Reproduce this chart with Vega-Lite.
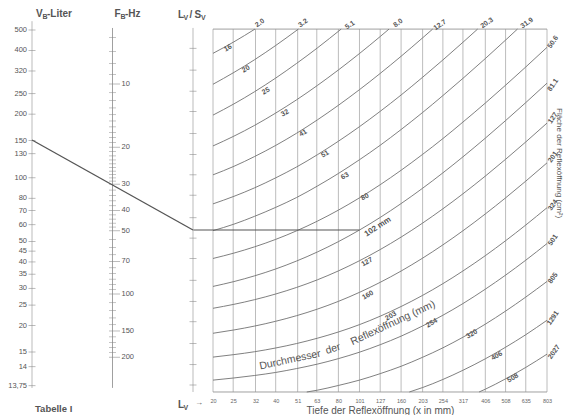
{
"$schema": "https://vega.github.io/schema/vega-lite/v6.json",
"width": 564, "height": 415, "autosize": {"type": "none"}, "padding": 0,
"background": "white",
"config": {"view": {"stroke": null}, "text": {"font": "Liberation Sans", "color": "#555"}, "axis": {"labelFont": "Liberation Sans", "titleFont": "Liberation Sans"}},
"resolve": {"scale": {"x": "independent", "y": "independent"}, "axis": {"x": "independent", "y": "independent"}},
"layer": [
{"data": {"values": [{"x":20},{"x":25},{"x":32},{"x":40},{"x":51},{"x":63},{"x":80},{"x":101},{"x":127},{"x":160},{"x":203},{"x":254},{"x":317},{"x":406},{"x":508},{"x":635},{"x":803}]},
 "mark": {"type": "rule", "color": "#ababab", "strokeWidth": 0.8},
 "encoding": {"x": {"field": "x", "type": "quantitative", "scale": {"type":"log","domain":[20,803],"range":[213,547],"nice":false},
   "axis": {"orient":"bottom","offset":-23,"values":[20,25,32,40,51,63,80,101,127,160,203,254,317,406,508,635,803],"format":"d","labelFontSize":5.5,"labelColor":"#666","ticks":false,"domain":false,"grid":false,"labelPadding":6,"labelOverlap":false,"labelFlush":false,"labelBound":false,"title":"Tiefe der Reflexöffnung (x in mm)","titleFontSize":10,"titleColor":"#555","titleFontWeight":"normal","titlePadding":2}},
  "y": {"datum": 3.705, "type": "quantitative", "scale": {"type":"log","domain":[4,160],"range":[385,48.3],"nice":false}, "axis": null},
  "y2": {"datum": 197.5}}},
{"data": {"values": [{"y":3.705},{"y":197.5}]},
 "mark": {"type": "rule", "color": "#959595", "strokeWidth": 0.9},
 "encoding": {"x": {"datum": 20, "type": "quantitative", "scale": {"type":"log","domain":[20,803],"range":[213,547],"nice":false}, "axis": null},
  "x2": {"datum": 803},
  "y": {"field": "y", "type": "quantitative", "scale": {"type":"log","domain":[4,160],"range":[385,48.3],"nice":false}, "axis": null}}},
{"data": {"values": [
 {"d":"16","x":20,"y":151.4},{"d":"16","x":25.2,"y":171.7},{"d":"16","x":31.8,"y":197.5},
 {"d":"20","x":20,"y":107.9},{"d":"20","x":25.2,"y":122.8},{"d":"20","x":31.7,"y":141.3},{"d":"20","x":40,"y":165.0},{"d":"20","x":51.4,"y":197.5},
 {"d":"25","x":20,"y":76.96},{"d":"25","x":25.2,"y":87.0},{"d":"25","x":31.7,"y":99.5},{"d":"25","x":40,"y":115.5},{"d":"25","x":50.4,"y":135.6},{"d":"25","x":63.5,"y":160.8},{"d":"25","x":82.5,"y":197.5},
 {"d":"32","x":20,"y":54.9},{"d":"32","x":25.2,"y":61.1},{"d":"32","x":31.7,"y":68.8},{"d":"32","x":40,"y":78.7},{"d":"32","x":50.4,"y":91.0},{"d":"32","x":63.5,"y":106.6},{"d":"32","x":80,"y":126.2},{"d":"32","x":101,"y":151.1},{"d":"32","x":127,"y":182.0},{"d":"32","x":140,"y":197.5},
 {"d":"41","x":20,"y":40.0},{"d":"41","x":25.2,"y":43.9},{"d":"41","x":31.7,"y":48.9},{"d":"41","x":40,"y":55.2},{"d":"41","x":50.4,"y":63.1},{"d":"41","x":63.5,"y":73.1},{"d":"41","x":80,"y":85.7},{"d":"41","x":101,"y":101.7},{"d":"41","x":127,"y":121.5},{"d":"41","x":160,"y":146.6},{"d":"41","x":203,"y":179.4},{"d":"41","x":226.8,"y":197.5},
 {"d":"51","x":20,"y":29.1},{"d":"51","x":25.2,"y":31.6},{"d":"51","x":31.7,"y":34.7},{"d":"51","x":40,"y":38.7},{"d":"51","x":50.4,"y":43.6},{"d":"51","x":63.5,"y":49.9},{"d":"51","x":80,"y":57.8},{"d":"51","x":101,"y":67.8},{"d":"51","x":127,"y":80.2},{"d":"51","x":160,"y":95.9},{"d":"51","x":203,"y":116.5},{"d":"51","x":254,"y":140.8},{"d":"51","x":317,"y":170.9},{"d":"51","x":372.8,"y":197.5},
 {"d":"63","x":20,"y":21.7},{"d":"63","x":25.2,"y":23.3},{"d":"63","x":31.7,"y":25.4},{"d":"63","x":40,"y":28.0},{"d":"63","x":50.4,"y":31.2},{"d":"63","x":63.5,"y":35.4},{"d":"63","x":80,"y":40.6},{"d":"63","x":101,"y":47.2},{"d":"63","x":127,"y":55.3},{"d":"63","x":160,"y":65.7},{"d":"63","x":203,"y":79.2},{"d":"63","x":254,"y":95.3},{"d":"63","x":317,"y":115.1},{"d":"63","x":406,"y":143.0},{"d":"63","x":508,"y":175.1},{"d":"63","x":579.2,"y":197.5},
 {"d":"80","x":20,"y":16.0},{"d":"80","x":25.2,"y":16.97},{"d":"80","x":31.7,"y":18.18},{"d":"80","x":40,"y":19.72},{"d":"80","x":50.4,"y":21.66},{"d":"80","x":63.5,"y":24.1},{"d":"80","x":80,"y":27.17},{"d":"80","x":101,"y":31.08},{"d":"80","x":127,"y":35.9},{"d":"80","x":160,"y":42.05},{"d":"80","x":203,"y":50.06},{"d":"80","x":254,"y":59.5},{"d":"80","x":317,"y":71.3},{"d":"80","x":406,"y":87.8},{"d":"80","x":508,"y":106.8},{"d":"80","x":635,"y":130.4},{"d":"80","x":803,"y":161.7},
 {"d":"102","x":20,"y":11.78},{"d":"102","x":25.2,"y":12.42},{"d":"102","x":31.7,"y":13.23},{"d":"102","x":40,"y":14.26},{"d":"102","x":50.4,"y":15.56},{"d":"102","x":63.5,"y":17.19},{"d":"102","x":80,"y":19.24},{"d":"102","x":101,"y":21.85},{"d":"102","x":127,"y":25.08},{"d":"102","x":160,"y":29.19},{"d":"102","x":203,"y":34.54},{"d":"102","x":254,"y":40.88},{"d":"102","x":317,"y":48.71},{"d":"102","x":406,"y":59.78},{"d":"102","x":508,"y":72.47},{"d":"102","x":635,"y":88.26},{"d":"102","x":803,"y":109.2},
 {"d":"127","x":20,"y":9.27},{"d":"127","x":25.2,"y":9.68},{"d":"127","x":31.7,"y":10.19},{"d":"127","x":40,"y":10.84},{"d":"127","x":50.4,"y":11.65},{"d":"127","x":63.5,"y":12.67},{"d":"127","x":80,"y":13.96},{"d":"127","x":101,"y":15.61},{"d":"127","x":127,"y":17.64},{"d":"127","x":160,"y":20.22},{"d":"127","x":203,"y":23.58},{"d":"127","x":254,"y":27.57},{"d":"127","x":317,"y":32.49},{"d":"127","x":406,"y":39.45},{"d":"127","x":508,"y":47.43},{"d":"127","x":635,"y":57.36},{"d":"127","x":803,"y":70.5},
 {"d":"160","x":20,"y":7.05},{"d":"160","x":25.2,"y":7.31},{"d":"160","x":31.7,"y":7.63},{"d":"160","x":40,"y":8.04},{"d":"160","x":50.4,"y":8.55},{"d":"160","x":63.5,"y":9.19},{"d":"160","x":80,"y":10.0},{"d":"160","x":101,"y":11.04},{"d":"160","x":127,"y":12.32},{"d":"160","x":160,"y":13.94},{"d":"160","x":203,"y":16.06},{"d":"160","x":254,"y":18.57},{"d":"160","x":317,"y":21.67},{"d":"160","x":406,"y":26.06},{"d":"160","x":508,"y":31.08},{"d":"160","x":635,"y":37.33},{"d":"160","x":803,"y":45.6},
 {"d":"203","x":20,"y":5.43},{"d":"203","x":25.2,"y":5.58},{"d":"203","x":31.7,"y":5.76},{"d":"203","x":40,"y":6.0},{"d":"203","x":50.4,"y":6.3},{"d":"203","x":63.5,"y":6.68},{"d":"203","x":80,"y":7.15},{"d":"203","x":101,"y":7.75},{"d":"203","x":127,"y":8.5},{"d":"203","x":160,"y":9.45},{"d":"203","x":203,"y":10.68},{"d":"203","x":254,"y":12.14},{"d":"203","x":317,"y":13.95},{"d":"203","x":406,"y":16.5},{"d":"203","x":508,"y":19.43},{"d":"203","x":635,"y":23.08},{"d":"203","x":803,"y":27.9},
 {"d":"254","x":20,"y":4.22},{"d":"254","x":25.2,"y":4.32},{"d":"254","x":31.7,"y":4.44},{"d":"254","x":40,"y":4.59},{"d":"254","x":50.4,"y":4.79},{"d":"254","x":63.5,"y":5.03},{"d":"254","x":80,"y":5.34},{"d":"254","x":101,"y":5.73},{"d":"254","x":127,"y":6.22},{"d":"254","x":160,"y":6.83},{"d":"254","x":203,"y":7.64},{"d":"254","x":254,"y":8.59},{"d":"254","x":317,"y":9.76},{"d":"254","x":406,"y":11.43},{"d":"254","x":508,"y":13.33},{"d":"254","x":635,"y":15.7},{"d":"254","x":803,"y":18.84},
 {"d":"320","x":56.4,"y":3.705},{"d":"320","x":63.5,"y":3.78},{"d":"320","x":80,"y":3.98},{"d":"320","x":101,"y":4.22},{"d":"320","x":127,"y":4.53},{"d":"320","x":160,"y":4.91},{"d":"320","x":203,"y":5.42},{"d":"320","x":254,"y":6.01},{"d":"320","x":317,"y":6.75},{"d":"320","x":406,"y":7.79},{"d":"320","x":508,"y":8.99},{"d":"320","x":635,"y":10.48},{"d":"320","x":803,"y":12.44},
 {"d":"406","x":175.3,"y":3.705},{"d":"406","x":203,"y":3.89},{"d":"406","x":254,"y":4.25},{"d":"406","x":317,"y":4.70},{"d":"406","x":406,"y":5.33},{"d":"406","x":508,"y":6.05},{"d":"406","x":635,"y":6.94},{"d":"406","x":803,"y":8.13},
 {"d":"508","x":379,"y":3.705},{"d":"508","x":406,"y":3.82},{"d":"508","x":508,"y":4.28},{"d":"508","x":635,"y":4.85},{"d":"508","x":803,"y":5.61}
 ]},
 "mark": {"type": "line", "color": "#727272", "strokeWidth": 0.9, "interpolate": "monotone"},
 "encoding": {"x": {"field": "x", "type": "quantitative", "scale": {"type":"log","domain":[20,803],"range":[213,547],"nice":false}, "axis": null},
  "y": {"field": "y", "type": "quantitative", "scale": {"type":"log","domain":[4,160],"range":[385,48.3],"nice":false}, "axis": null},
  "detail": {"field": "d", "type": "nominal"}}},
{"data": {"values": [{"x0":16.05,"x1":101,"y":21.85}]},
 "mark": {"type": "rule", "color": "#555", "strokeWidth": 1.2},
 "encoding": {"x": {"field": "x0", "type": "quantitative", "scale": {"type":"log","domain":[20,803],"range":[213,547],"nice":false}, "axis": null},
  "x2": {"field": "x1"},
  "y": {"field": "y", "type": "quantitative", "scale": {"type":"log","domain":[4,160],"range":[385,48.3],"nice":false}, "axis": null}}},
{"data": {"values": [
 {"x":23.6,"y":160.4,"t":"16"},{"x":28.8,"y":127.5,"t":"20"},{"x":35.9,"y":100.2,"t":"25"},{"x":44.3,"y":78.7,"t":"32"},{"x":54.1,"y":63.2,"t":"41"},{"x":69.0,"y":50.2,"t":"51"},{"x":86.0,"y":39.5,"t":"63"},{"x":107.3,"y":31.4,"t":"80"},{"x":109.7,"y":15.4,"t":"127"},{"x":110.9,"y":10.7,"t":"160"},{"x":143,"y":8.52,"t":"203"},{"x":225,"y":7.89,"t":"254"},{"x":350,"y":6.99,"t":"320"},{"x":461,"y":5.5,"t":"406"},{"x":551,"y":4.32,"t":"508"}]},
 "mark": {"type": "text", "angle": -30, "fontSize": 7, "fontWeight": "bold", "color": "#555", "align": "center", "baseline": "middle"},
 "encoding": {"x": {"field": "x", "type": "quantitative", "scale": {"type":"log","domain":[20,803],"range":[213,547],"nice":false}, "axis": null},
  "y": {"field": "y", "type": "quantitative", "scale": {"type":"log","domain":[4,160],"range":[385,48.3],"nice":false}, "axis": null},
  "text": {"field": "t"}}},
{"data": {"values": [{"x":123.9,"y":22.6,"t":"102 mm"}]},
 "mark": {"type": "text", "angle": -33, "fontSize": 8, "fontWeight": "bold", "color": "#555", "align": "center", "baseline": "middle"},
 "encoding": {"x": {"field": "x", "type": "quantitative", "scale": {"type":"log","domain":[20,803],"range":[213,547],"nice":false}, "axis": null},
  "y": {"field": "y", "type": "quantitative", "scale": {"type":"log","domain":[4,160],"range":[385,48.3],"nice":false}, "axis": null},
  "text": {"field": "t"}}},
{"data": {"values": [
 {"x":33.6,"y":211,"t":"2.0"},{"x":54.1,"y":211,"t":"3.2"},{"x":90.9,"y":206.4,"t":"5.1"},{"x":154.7,"y":211,"t":"8.0"},{"x":246,"y":206.4,"t":"12.7"},{"x":413,"y":211,"t":"20.3"},{"x":643,"y":211,"t":"31.9"}]},
 "mark": {"type": "text", "angle": -35, "fontSize": 7, "fontWeight": "bold", "color": "#555", "align": "center", "baseline": "middle"},
 "encoding": {"x": {"field": "x", "type": "quantitative", "scale": {"type":"log","domain":[20,803],"range":[213,547],"nice":false}, "axis": null},
  "y": {"field": "y", "type": "quantitative", "scale": {"type":"log","domain":[4,160],"range":[385,48.3],"nice":false}, "axis": null},
  "text": {"field": "t"}}},
{"data": {"values": [
 {"x":857.8,"y":171.3,"t":"50.6"},{"x":857.8,"y":107.0,"t":"81.1"},{"x":857.8,"y":74.5,"t":"127"},{"x":857.8,"y":48.6,"t":"201"},{"x":857.8,"y":28.7,"t":"324"},{"x":857.8,"y":19.6,"t":"501"},{"x":857.8,"y":12.9,"t":"805"},{"x":857.8,"y":8.33,"t":"1291"},{"x":868,"y":5.74,"t":"2027"}]},
 "mark": {"type": "text", "angle": -55, "fontSize": 7, "fontWeight": "bold", "color": "#555", "align": "center", "baseline": "middle"},
 "encoding": {"x": {"field": "x", "type": "quantitative", "scale": {"type":"log","domain":[20,803],"range":[213,547],"nice":false}, "axis": null},
  "y": {"field": "y", "type": "quantitative", "scale": {"type":"log","domain":[4,160],"range":[385,48.3],"nice":false}, "axis": null},
  "text": {"field": "t"}}},
{"data": {"values": [{"x":46.9,"y":5.26,"t":"Durchmesser"}]},
 "mark": {"type": "text", "angle": -12, "fontSize": 10.5, "color": "#555", "align": "center", "baseline": "middle"},
 "encoding": {"x": {"field": "x", "type": "quantitative", "scale": {"type":"log","domain":[20,803],"range":[213,547],"nice":false}, "axis": null},
  "y": {"field": "y", "type": "quantitative", "scale": {"type":"log","domain":[4,160],"range":[385,48.3],"nice":false}, "axis": null},
  "text": {"field": "t"}}},
{"data": {"values": [{"x":75.4,"y":5.94,"t":"der"}]},
 "mark": {"type": "text", "angle": -17, "fontSize": 10.5, "color": "#555", "align": "center", "baseline": "middle"},
 "encoding": {"x": {"field": "x", "type": "quantitative", "scale": {"type":"log","domain":[20,803],"range":[213,547],"nice":false}, "axis": null},
  "y": {"field": "y", "type": "quantitative", "scale": {"type":"log","domain":[4,160],"range":[385,48.3],"nice":false}, "axis": null},
  "text": {"field": "t"}}},
{"data": {"values": [{"x":146.3,"y":7.89,"t":"Reflexöffnung (mm)"}]},
 "mark": {"type": "text", "angle": -25, "fontSize": 10.5, "color": "#555", "align": "center", "baseline": "middle"},
 "encoding": {"x": {"field": "x", "type": "quantitative", "scale": {"type":"log","domain":[20,803],"range":[213,547],"nice":false}, "axis": null},
  "y": {"field": "y", "type": "quantitative", "scale": {"type":"log","domain":[4,160],"range":[385,48.3],"nice":false}, "axis": null},
  "text": {"field": "t"}}},
{"data": {"values": [{"x":920,"y":45.5,"t":"Fläche der Reflexöffnung (cm²)"}]},
 "mark": {"type": "text", "angle": 90, "fontSize": 8, "color": "#555", "align": "center", "baseline": "middle"},
 "encoding": {"x": {"field": "x", "type": "quantitative", "scale": {"type":"log","domain":[20,803],"range":[213,547],"nice":false}, "axis": null},
  "y": {"field": "y", "type": "quantitative", "scale": {"type":"log","domain":[4,160],"range":[385,48.3],"nice":false}, "axis": null},
  "text": {"field": "t"}}},

{"data": {"values": [{"axis":"VB"}]},
 "mark": {"type": "rule", "color": "#aaa", "strokeWidth": 0.8},
 "encoding": {"x": {"field": "axis", "type": "nominal", "scale": {"type":"point","domain":["VB","FB","LV"],"range":[32,193],"padding":0}, "axis": null},
  "y": {"datum": 13.7, "type": "quantitative", "scale": {"type":"log","domain":[13.7,13.75,14,15,500,550],"range":[388,385.7,366.7,352,30,21.2],"nice":false}, "axis": null},
  "y2": {"datum": 550}}},
{"data": {"values": [
 {"axis":"VB","v":500,"t":"500"},{"axis":"VB","v":400,"t":"400"},{"axis":"VB","v":320,"t":"320"},{"axis":"VB","v":250,"t":"250"},{"axis":"VB","v":200,"t":"200"},{"axis":"VB","v":150,"t":"150"},{"axis":"VB","v":130,"t":"130"},{"axis":"VB","v":100,"t":"100"},{"axis":"VB","v":80,"t":"80"},{"axis":"VB","v":70,"t":"70"},{"axis":"VB","v":60,"t":"60"},{"axis":"VB","v":50,"t":"50"},{"axis":"VB","v":45,"t":"45"},{"axis":"VB","v":40,"t":"40"},{"axis":"VB","v":35,"t":"35"},{"axis":"VB","v":30,"t":"30"},{"axis":"VB","v":25,"t":"25"},{"axis":"VB","v":20,"t":"20"},{"axis":"VB","v":15,"t":"15"},{"axis":"VB","v":14,"t":"14"},{"axis":"VB","v":13.75,"t":"13,75"}]},
 "layer": [
  {"mark": {"type": "tick", "size": 7, "thickness": 0.8, "color": "#888"}},
  {"mark": {"type": "text", "align": "right", "baseline": "middle", "dx": -5, "fontSize": 7.5, "color": "#555"}, "encoding": {"text": {"field": "t"}}}
 ],
 "encoding": {"x": {"field": "axis", "type": "nominal", "scale": {"type":"point","domain":["VB","FB","LV"],"range":[32,193],"padding":0}, "axis": null},
  "y": {"field": "v", "type": "quantitative", "scale": {"type":"log","domain":[13.7,13.75,14,15,500,550],"range":[388,385.7,366.7,352,30,21.2],"nice":false}, "axis": null}}},
{"data": {"values": [{"axis":"VB"}]},
 "layer": [
  {"mark": {"type": "text", "align": "left", "baseline": "middle", "dx": 4, "dy": -7, "fontSize": 10, "fontWeight": "bold", "color": "#555"}, "encoding": {"text": {"value": "V"}}},
  {"mark": {"type": "text", "align": "left", "baseline": "middle", "dx": 10.5, "dy": -4, "fontSize": 7, "fontWeight": "bold", "color": "#555"}, "encoding": {"text": {"value": "B"}}},
  {"mark": {"type": "text", "align": "left", "baseline": "middle", "dx": 15, "dy": -7, "fontSize": 10, "fontWeight": "bold", "color": "#555"}, "encoding": {"text": {"value": "-Liter"}}},
  {"mark": {"type": "text", "align": "left", "baseline": "middle", "dx": 3, "dy": 21, "fontSize": 9.5, "fontWeight": "bold", "color": "#555"}, "encoding": {"text": {"value": "Tabelle I"}, "y": {"datum": 13.7, "type": "quantitative", "scale": {"type":"log","domain":[13.7,13.75,14,15,500,550],"range":[388,385.7,366.7,352,30,21.2],"nice":false}, "axis": null}}}
 ],
 "encoding": {"x": {"field": "axis", "type": "nominal", "scale": {"type":"point","domain":["VB","FB","LV"],"range":[32,193],"padding":0}, "axis": null},
  "y": {"datum": 550, "type": "quantitative", "scale": {"type":"log","domain":[13.7,13.75,14,15,500,550],"range":[388,385.7,366.7,352,30,21.2],"nice":false}, "axis": null}}},

{"data": {"values": [{"axis":"FB"}]},
 "mark": {"type": "rule", "color": "#888", "strokeWidth": 0.8},
 "encoding": {"x": {"field": "axis", "type": "nominal", "scale": {"type":"point","domain":["VB","FB","LV"],"range":[32,193],"padding":0}, "axis": null},
  "y": {"datum": 5.41, "type": "quantitative", "scale": {"type":"log","domain":[10,100],"range":[84,294],"nice":false}, "axis": null},
  "y2": {"datum": 280}}},
{"data": {"values": [
 {"axis":"FB","f":6},{"axis":"FB","f":7},{"axis":"FB","f":8},{"axis":"FB","f":9},{"axis":"FB","f":11},{"axis":"FB","f":12},{"axis":"FB","f":13},{"axis":"FB","f":14},{"axis":"FB","f":15},{"axis":"FB","f":16},{"axis":"FB","f":17},{"axis":"FB","f":18},{"axis":"FB","f":19},{"axis":"FB","f":21},{"axis":"FB","f":22},{"axis":"FB","f":23},{"axis":"FB","f":24},{"axis":"FB","f":25},{"axis":"FB","f":26},{"axis":"FB","f":27},{"axis":"FB","f":28},{"axis":"FB","f":29},{"axis":"FB","f":32},{"axis":"FB","f":34},{"axis":"FB","f":36},{"axis":"FB","f":38},{"axis":"FB","f":42},{"axis":"FB","f":44},{"axis":"FB","f":46},{"axis":"FB","f":48},{"axis":"FB","f":55},{"axis":"FB","f":60},{"axis":"FB","f":65},{"axis":"FB","f":75},{"axis":"FB","f":80},{"axis":"FB","f":85},{"axis":"FB","f":90},{"axis":"FB","f":95},{"axis":"FB","f":110},{"axis":"FB","f":120},{"axis":"FB","f":130},{"axis":"FB","f":140},{"axis":"FB","f":160},{"axis":"FB","f":170},{"axis":"FB","f":180},{"axis":"FB","f":190}]},
 "mark": {"type": "tick", "size": 7, "thickness": 0.7, "color": "#888"},
 "encoding": {"x": {"field": "axis", "type": "nominal", "scale": {"type":"point","domain":["VB","FB","LV"],"range":[32,193],"padding":0}, "axis": null},
  "y": {"field": "f", "type": "quantitative", "scale": {"type":"log","domain":[10,100],"range":[84,294],"nice":false}, "axis": null}}},
{"data": {"values": [
 {"axis":"FB","f":10,"t":"10"},{"axis":"FB","f":20,"t":"20"},{"axis":"FB","f":30,"t":"30"},{"axis":"FB","f":40,"t":"40"},{"axis":"FB","f":50,"t":"50"},{"axis":"FB","f":70,"t":"70"},{"axis":"FB","f":100,"t":"100"},{"axis":"FB","f":150,"t":"150"},{"axis":"FB","f":200,"t":"200"}]},
 "layer": [
  {"mark": {"type": "tick", "size": 11, "thickness": 0.8, "color": "#888", "xOffset": 2}},
  {"mark": {"type": "text", "align": "left", "baseline": "middle", "dx": 9, "fontSize": 7.5, "color": "#555"}, "encoding": {"text": {"field": "t"}}}
 ],
 "encoding": {"x": {"field": "axis", "type": "nominal", "scale": {"type":"point","domain":["VB","FB","LV"],"range":[32,193],"padding":0}, "axis": null},
  "y": {"field": "f", "type": "quantitative", "scale": {"type":"log","domain":[10,100],"range":[84,294],"nice":false}, "axis": null}}},
{"data": {"values": [{"axis":"FB"}]},
 "layer": [
  {"mark": {"type": "text", "align": "left", "baseline": "middle", "dx": 2, "dy": -14, "fontSize": 10, "fontWeight": "bold", "color": "#555"}, "encoding": {"text": {"value": "F"}}},
  {"mark": {"type": "text", "align": "left", "baseline": "middle", "dx": 8, "dy": -11, "fontSize": 7, "fontWeight": "bold", "color": "#555"}, "encoding": {"text": {"value": "B"}}},
  {"mark": {"type": "text", "align": "left", "baseline": "middle", "dx": 12.5, "dy": -14, "fontSize": 10, "fontWeight": "bold", "color": "#555"}, "encoding": {"text": {"value": "-Hz"}}}
 ],
 "encoding": {"x": {"field": "axis", "type": "nominal", "scale": {"type":"point","domain":["VB","FB","LV"],"range":[32,193],"padding":0}, "axis": null},
  "y": {"datum": 5.41, "type": "quantitative", "scale": {"type":"log","domain":[10,100],"range":[84,294],"nice":false}, "axis": null}}},

{"data": {"values": [{"axis":"LV"}]},
 "mark": {"type": "rule", "color": "#aaa", "strokeWidth": 0.8},
 "encoding": {"x": {"field": "axis", "type": "nominal", "scale": {"type":"point","domain":["VB","FB","LV"],"range":[32,193],"padding":0}, "axis": null},
  "y": {"datum": 3.705, "type": "quantitative", "scale": {"type":"log","domain":[4,160],"range":[385,48.3],"nice":false}, "axis": null},
  "y2": {"datum": 200}}},
{"data": {"values": [
 {"axis":"LV","y":4},{"axis":"LV","y":5},{"axis":"LV","y":6.3},{"axis":"LV","y":8},{"axis":"LV","y":10},{"axis":"LV","y":12.6},{"axis":"LV","y":16},{"axis":"LV","y":20},{"axis":"LV","y":25},{"axis":"LV","y":32},{"axis":"LV","y":40},{"axis":"LV","y":50},{"axis":"LV","y":63},{"axis":"LV","y":80},{"axis":"LV","y":100},{"axis":"LV","y":126},{"axis":"LV","y":160}]},
 "mark": {"type": "tick", "size": 7, "thickness": 0.8, "color": "#888"},
 "encoding": {"x": {"field": "axis", "type": "nominal", "scale": {"type":"point","domain":["VB","FB","LV"],"range":[32,193],"padding":0}, "axis": null},
  "y": {"field": "y", "type": "quantitative", "scale": {"type":"log","domain":[4,160],"range":[385,48.3],"nice":false}, "axis": null}}},
{"data": {"values": [{"axis":"VB","y":58.6},{"axis":"LV","y":21.85}]},
 "mark": {"type": "line", "color": "#555", "strokeWidth": 1.3},
 "encoding": {"x": {"field": "axis", "type": "nominal", "scale": {"type":"point","domain":["VB","FB","LV"],"range":[32,193],"padding":0}, "axis": null},
  "y": {"field": "y", "type": "quantitative", "scale": {"type":"log","domain":[4,160],"range":[385,48.3],"nice":false}, "axis": null}}},
{"data": {"values": [{"axis":"LV"}]},
 "layer": [
  {"mark": {"type": "text", "align": "left", "baseline": "middle", "dx": -15, "dy": -13, "fontSize": 10, "fontWeight": "bold", "color": "#555"}, "encoding": {"text": {"value": "L"}}},
  {"mark": {"type": "text", "align": "left", "baseline": "middle", "dx": -9.5, "dy": -10, "fontSize": 7, "fontWeight": "bold", "color": "#555"}, "encoding": {"text": {"value": "V"}}},
  {"mark": {"type": "text", "align": "left", "baseline": "middle", "dx": -3.5, "dy": -13, "fontSize": 10, "fontWeight": "bold", "color": "#555"}, "encoding": {"text": {"value": "/"}}},
  {"mark": {"type": "text", "align": "left", "baseline": "middle", "dx": 1.5, "dy": -13, "fontSize": 10, "fontWeight": "bold", "color": "#555"}, "encoding": {"text": {"value": "S"}}},
  {"mark": {"type": "text", "align": "left", "baseline": "middle", "dx": 8, "dy": -10, "fontSize": 7, "fontWeight": "bold", "color": "#555"}, "encoding": {"text": {"value": "V"}}}
 ],
 "encoding": {"x": {"field": "axis", "type": "nominal", "scale": {"type":"point","domain":["VB","FB","LV"],"range":[32,193],"padding":0}, "axis": null},
  "y": {"datum": 200, "type": "quantitative", "scale": {"type":"log","domain":[4,160],"range":[385,48.3],"nice":false}, "axis": null}}},
{"data": {"values": [{"axis":"LV"}]},
 "layer": [
  {"mark": {"type": "text", "align": "left", "baseline": "middle", "dx": -15, "dy": 13, "fontSize": 10, "fontWeight": "bold", "color": "#555"}, "encoding": {"text": {"value": "L"}}},
  {"mark": {"type": "text", "align": "left", "baseline": "middle", "dx": -9.5, "dy": 16, "fontSize": 7, "fontWeight": "bold", "color": "#555"}, "encoding": {"text": {"value": "V"}}},
  {"mark": {"type": "text", "align": "left", "baseline": "middle", "dx": 2, "dy": 11, "fontSize": 8, "color": "#555"}, "encoding": {"text": {"value": "→"}}}
 ],
 "encoding": {"x": {"field": "axis", "type": "nominal", "scale": {"type":"point","domain":["VB","FB","LV"],"range":[32,193],"padding":0}, "axis": null},
  "y": {"datum": 3.705, "type": "quantitative", "scale": {"type":"log","domain":[4,160],"range":[385,48.3],"nice":false}, "axis": null}}}
]
}
